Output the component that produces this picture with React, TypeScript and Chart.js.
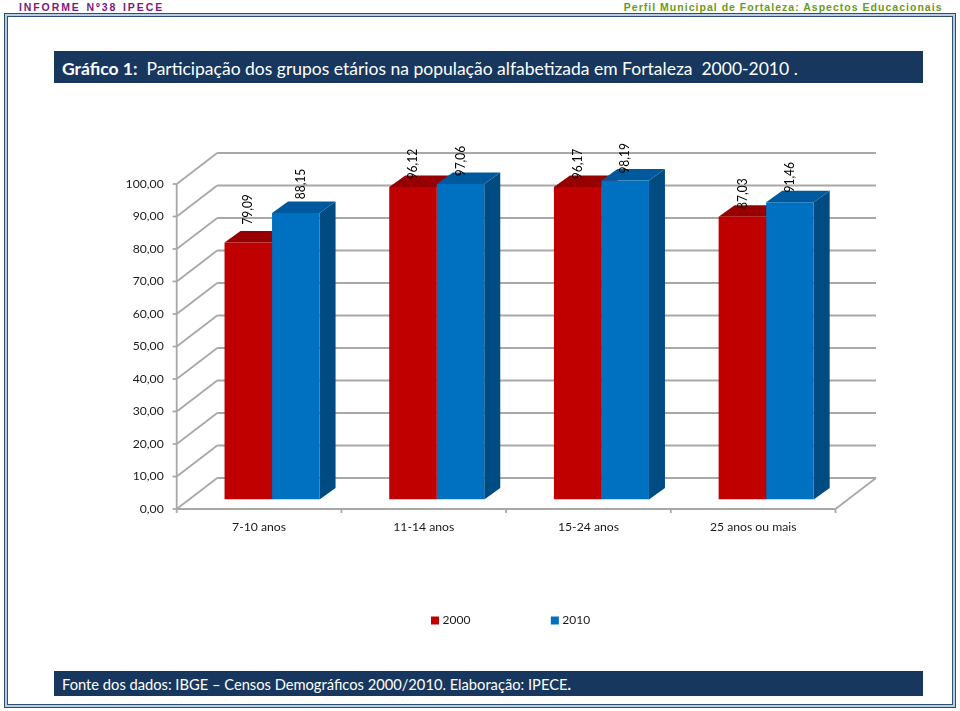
import React, { useEffect, useRef } from "react";
import { Chart, registerables } from "chart.js";

Chart.register(...registerables);

const categories = ["7-10 anos", "11-14 anos", "15-24 anos", "25 anos ou mais"];
const seriesNames = ["2000", "2010"];
const values2000 = [79.09, 96.12, 96.17, 87.03];
const values2010 = [88.15, 97.06, 98.19, 91.46];
const yTicks = [0, 10, 20, 30, 40, 50, 60, 70, 80, 90, 100];

const FONT = "Lato, Carlito, Calibri, sans-serif";
const fmt = (v: number) => v.toFixed(2).replace(".", ",");

// depth geometry, px (relative to the plane in which the bars stand)
const FRONT = { dx: -13, dy: 9.5 };
const BACK = { dx: 27.5, dy: -21.5 };
const BAR_DEPTH = { dx: 16, dy: -11.5 };
const GRID = "#a8a8a8";
const barStyles = [
  { face: "#c00000", top: "#960000", side: "#7d0000" },
  { face: "#0070c0", top: "#00599c", side: "#004b82" },
];
// how far each value label rises above its bar and shifts sideways
const labelRise = [
  [33, 23, 23, 23],
  [29, 23, 22, 25],
];
const labelShift = [
  [0, 0, 0, 0],
  [5, 0, 0, 0],
];

const poly = (ctx: CanvasRenderingContext2D, pts: number[][], fill: string) => {
  ctx.beginPath();
  pts.forEach(([x, y], i) => (i ? ctx.lineTo(x, y) : ctx.moveTo(x, y)));
  ctx.closePath();
  ctx.fillStyle = fill;
  ctx.fill();
};

const wallPlugin = {
  id: "wall",
  afterLayout(chart: any) {
    const l = chart.legend;
    const pad = l.options.labels.padding;
    l.left = 433.5 - pad;
    l.right = 960;
    l.top = 614.5 - pad;
    l.bottom = 640;
    l.width = l.right - l.left;
    l.height = l.bottom - l.top;
  },
  beforeDatasetsDraw(chart: any) {
    const { ctx, chartArea: a, scales } = chart;
    const y = scales.y;
    ctx.save();
    ctx.strokeStyle = GRID;
    ctx.lineWidth = 1.8;
    const line = (x1: number, y1: number, x2: number, y2: number) => {
      ctx.beginPath();
      ctx.moveTo(x1, y1);
      ctx.lineTo(x2, y2);
      ctx.stroke();
    };
    const fl = a.left + FRONT.dx;
    const fr = a.right + FRONT.dx;
    const bl = a.left + BACK.dx;
    const br = a.right + BACK.dx;
    yTicks.forEach((t) => {
      const p = y.getPixelForValue(t);
      line(bl, p + BACK.dy, br, p + BACK.dy);
      line(fl, p + FRONT.dy, bl, p + BACK.dy);
      line(fl - 4, p + FRONT.dy, fl, p + FRONT.dy);
    });
    line(fl, y.getPixelForValue(100) + FRONT.dy, fl, a.bottom + FRONT.dy);
    line(fl, a.bottom + FRONT.dy, fr, a.bottom + FRONT.dy);
    line(fr, a.bottom + FRONT.dy, br, a.bottom + BACK.dy);
    const step = (a.right - a.left) / categories.length;
    categories.concat("").forEach((_, i) => {
      const px = a.left + FRONT.dx + step * i;
      line(px, a.bottom + FRONT.dy, px, a.bottom + FRONT.dy + 4);
    });
    // bar tops and sides
    chart.data.datasets.forEach((_: any, d: number) => {
      const s = barStyles[d];
      chart.getDatasetMeta(d).data.forEach((b: any) => {
        const hw = b.width / 2;
        const L = b.x - hw;
        const R = b.x + hw;
        const { dx, dy } = BAR_DEPTH;
        poly(ctx, [[R, b.y], [R + dx, b.y + dy], [R + dx, b.base + dy], [R, b.base]], s.side);
        poly(ctx, [[L, b.y], [L + dx, b.y + dy], [R + dx, b.y + dy], [R, b.y]], s.top);
      });
    });
    ctx.restore();
  },
  afterDraw(chart: any) {
    const { ctx } = chart;
    ctx.save();
    ctx.fillStyle = "#000";
    ctx.font = `13px ${FONT}`;
    ctx.textAlign = "center";
    ctx.textBaseline = "middle";
    chart.data.datasets.forEach((ds: any, d: number) => {
      chart.getDatasetMeta(d).data.forEach((b: any, i: number) => {
        ctx.save();
        ctx.translate(b.x + labelShift[d][i], b.y - labelRise[d][i]);
        ctx.rotate(-Math.PI / 2);
        ctx.scale(0.92, 1);
        ctx.fillText(fmt(ds.data[i]), 0, 0);
        ctx.restore();
      });
    });
    ctx.restore();
  },
};

const abs = (l: number, t: number, w: number, h: number): React.CSSProperties => ({
  position: "absolute",
  left: l,
  top: t,
  width: w,
  height: h,
  boxSizing: "border-box",
});

export default function App() {
  const ref = useRef<HTMLCanvasElement>(null);
  useEffect(() => {
    const chart = new Chart(ref.current as HTMLCanvasElement, {
      type: "bar",
      data: {
        labels: categories,
        datasets: [
          { label: seriesNames[0], data: values2000, backgroundColor: barStyles[0].face },
          { label: seriesNames[1], data: values2010, backgroundColor: barStyles[1].face },
        ],
      },
      plugins: [wallPlugin],
      options: {
        responsive: false,
        animation: false,
        devicePixelRatio: 1,
        layout: { padding: { top: 174.5, right: 111.5, bottom: 170.5, left: 0 } },
        datasets: { bar: { categoryPercentage: 0.577, barPercentage: 1 } },
        scales: {
          x: {
            grid: { display: false },
            border: { display: false },
            ticks: {
              labelOffset: -13,
              padding: 12,
              maxRotation: 0,
              color: "#1a1a1a",
              font: { family: FONT, size: 12.2 },
            },
            afterFit: (s: any) => {
              s.height = 40;
            },
          },
          y: {
            min: 0,
            max: 100,
            afterBuildTicks: (s: any) => {
              s.ticks = yTicks.map((value) => ({ value }));
            },
            grid: { display: false },
            border: { display: false },
            ticks: {
              labelOffset: 9.5,
              padding: 18,
              color: "#1a1a1a",
              font: { family: FONT, size: 12.2 },
              callback: (v: any) => fmt(Number(v)),
            },
            afterFit: (s: any) => {
              s.width = 189.7;
            },
          },
        },
        plugins: {
          title: { display: false },
          tooltip: { enabled: false },
          legend: {
            position: "bottom",
            align: "start",
            maxHeight: 1,
            labels: {
              boxWidth: 3,
              boxHeight: 3,
              padding: 83,
              color: "#1a1a1a",
              font: { family: FONT, size: 12 },
              generateLabels: (chart: any) =>
                chart.data.datasets.map((ds: any, i: number) => ({
                  text: ds.label,
                  fillStyle: ds.backgroundColor,
                  strokeStyle: ds.backgroundColor,
                  lineWidth: 5,
                  fontColor: "#1a1a1a",
                  datasetIndex: i,
                })),
            },
          },
        },
      } as any,
    });
    return () => chart.destroy();
  }, []);

  return (
    <div style={{ ...abs(0, 0, 960, 711), background: "#fff", overflow: "hidden" }}>
      <div
        style={{
          ...abs(19, 0, 300, 13),
          color: "#7a1a7e",
          font: "bold 10.5px 'Liberation Sans', Arial, sans-serif",
          letterSpacing: "1.9px",
          wordSpacing: "1px",
          lineHeight: "14px",
          whiteSpace: "pre",
        }}
      >
        INFORME Nº38 IPECE
      </div>
      <div
        style={{
          ...abs(500, 0, 442.5, 13),
          textAlign: "right",
          color: "#6b9a1c",
          font: "bold 10.5px 'Liberation Sans', Arial, sans-serif",
          letterSpacing: "1.02px",
          lineHeight: "14px",
          whiteSpace: "pre",
        }}
      >
        Perfil Municipal de Fortaleza: Aspectos Educacionais
      </div>
      <div style={{ ...abs(4, 13, 952, 695), border: "1.5px solid #2f4f70", background: "#b9cde2" }} />
      <div style={{ ...abs(7, 16, 946, 689), border: "1.5px solid #2f4f70", background: "#fff" }} />
      <div
        style={{
          ...abs(54, 51, 869, 32),
          background: "#17375e",
          color: "#fff",
          font: `17.5px/35px ${FONT}`,
          paddingLeft: 8,
          whiteSpace: "pre",
        }}
      >
        <b>Gráfico 1:</b>
        {"  Participação dos grupos etários na população alfabetizada em Fortaleza  2000-2010 ."}
      </div>
      <div
        style={{
          ...abs(54, 671, 869, 25),
          background: "#17375e",
          color: "#fff",
          font: `14.7px/27px ${FONT}`,
          paddingLeft: 8,
          whiteSpace: "pre",
        }}
      >
        Fonte dos dados: IBGE – Censos Demográficos 2000/2010. Elaboração: IPECE<b>.</b>
      </div>
      <canvas ref={ref} width={960} height={711} style={{ ...abs(0, 0, 960, 711), display: "block" }} />
    </div>
  );
}
